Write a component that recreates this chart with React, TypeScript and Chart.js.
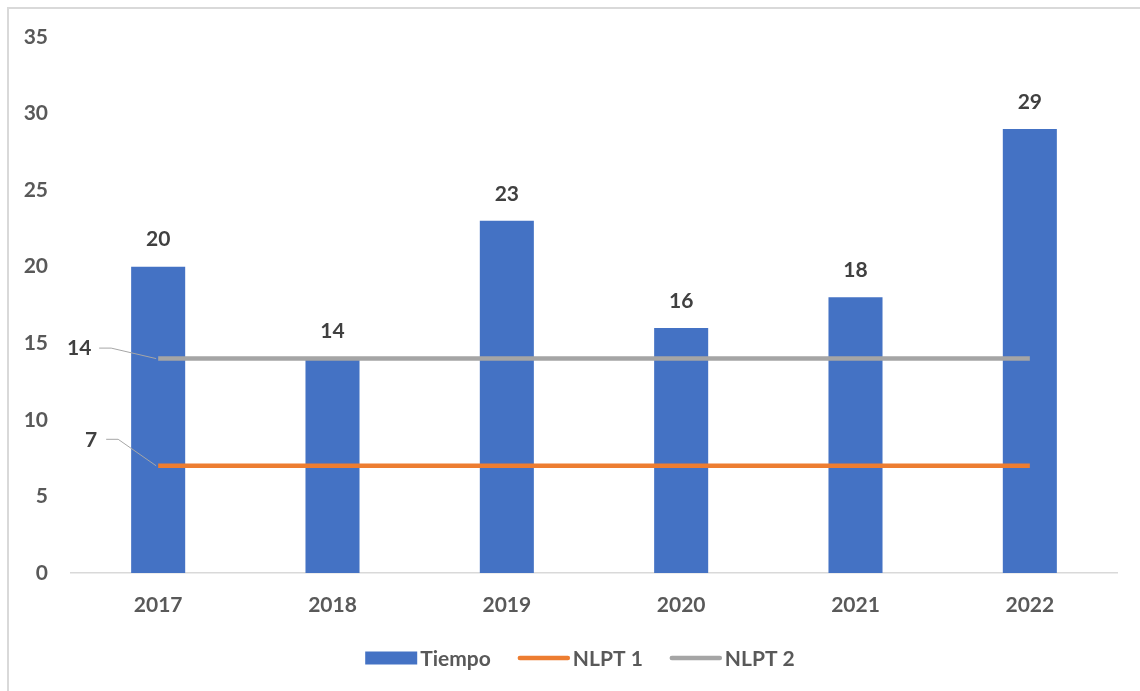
import React, { useEffect, useRef } from "react";
import { Chart, registerables } from "chart.js";

Chart.register(...registerables);

const years = ["2017", "2018", "2019", "2020", "2021", "2022"];
const tiempo = [20, 14, 23, 16, 18, 29];
const nlpt1 = [7, 7, 7, 7, 7, 7];
const nlpt2 = [14, 14, 14, 14, 14, 14];
const seriesNames = ["Tiempo", "NLPT 1", "NLPT 2"];

const BLUE = "#4472C4";
const ORANGE = "#ED7D31";
const GRAY = "#A5A5A5";
const FONT = "Lato, 'Open Sans', sans-serif";
const FONT_SIZE = 21;

const labelsPlugin = {
  id: "valueLabels",
  afterDatasetsDraw(chart: any) {
    const ctx = chart.ctx;
    ctx.save();
    ctx.font = `bold ${FONT_SIZE}px ${FONT}`;
    ctx.fillStyle = "#404040";
    ctx.textAlign = "center";
    ctx.textBaseline = "middle";
    // values above each bar
    const barMeta = chart.getDatasetMeta(0);
    barMeta.data.forEach((el: any, i: number) => {
      ctx.fillText(String(chart.data.datasets[0].data[i]), el.x, el.y - 27);
    });
    // value labels with leader lines at the first point of each threshold line
    const leaders = [
      { ds: 2, tx: -79, ty: -11, lx1: -59, lx2: -47 },
      { ds: 1, tx: -67, ty: -27, lx1: -52, lx2: -40 },
    ];
    leaders.forEach((l) => {
      const p = chart.getDatasetMeta(l.ds).data[0];
      const v = chart.data.datasets[l.ds].data[0];
      ctx.strokeStyle = "#A6A6A6";
      ctx.lineWidth = 1;
      ctx.beginPath();
      ctx.moveTo(p.x + l.lx1, p.y + l.ty + 0.5);
      ctx.lineTo(p.x + l.lx2, p.y + l.ty + 0.5);
      ctx.lineTo(p.x - 2, p.y);
      ctx.stroke();
      ctx.fillText(String(v), p.x + l.tx, p.y + l.ty + 1);
    });
    ctx.restore();
  },
};

const legendPlugin = {
  id: "customLegend",
  afterDraw(chart: any) {
    const ctx = chart.ctx;
    ctx.save();
    ctx.font = `bold ${FONT_SIZE}px ${FONT}`;
    ctx.textBaseline = "middle";
    ctx.textAlign = "left";
    const y = 658;
    const sample = 52;
    const gap = 5;
    const spacing = 25;
    const widths = seriesNames.map((n) => sample + gap + ctx.measureText(n).width);
    const total = widths.reduce((a, b) => a + b, 0) + spacing * (seriesNames.length - 1);
    let x = 581 - total / 2;
    seriesNames.forEach((name, i) => {
      if (i === 0) {
        ctx.fillStyle = BLUE;
        ctx.fillRect(x, y - 6.5, sample, 13);
      } else {
        ctx.strokeStyle = i === 1 ? ORANGE : GRAY;
        ctx.lineWidth = 4.5;
        ctx.lineCap = "round";
        ctx.beginPath();
        ctx.moveTo(x + 2, y);
        ctx.lineTo(x + sample - 2, y);
        ctx.stroke();
      }
      ctx.fillStyle = "#595959";
      ctx.fillText(name, x + sample + gap - 2, y + 1);
      x += widths[i] + spacing;
    });
    ctx.restore();
  },
};

export default function App() {
  const canvasRef = useRef<HTMLCanvasElement | null>(null);

  useEffect(() => {
    if (!canvasRef.current) return;
    const chart = new Chart(canvasRef.current, {
      data: {
        labels: years,
        datasets: [
          {
            type: "bar",
            label: seriesNames[0],
            data: tiempo,
            backgroundColor: BLUE,
            barPercentage: 1,
            categoryPercentage: 0.31,
            order: 3,
          },
          {
            type: "line",
            label: seriesNames[1],
            data: nlpt1,
            borderColor: ORANGE,
            borderWidth: 4.5,
            pointRadius: 0,
            order: 1,
          },
          {
            type: "line",
            label: seriesNames[2],
            data: nlpt2,
            borderColor: GRAY,
            borderWidth: 4.5,
            pointRadius: 0,
            order: 2,
          },
        ],
      } as any,
      options: {
        responsive: false,
        animation: false,
        layout: { padding: { top: 37, right: 23, bottom: 68, left: 0 } },
        plugins: {
          legend: { display: false },
          tooltip: { enabled: false },
          title: { display: false },
        },
        scales: {
          x: {
            grid: { display: false, drawTicks: false },
            border: { display: true, color: "#D9D9D9", width: 1.5 },
            ticks: {
              color: "#595959",
              font: { family: FONT, size: FONT_SIZE, weight: "bold" },
              padding: 20,
            },
            afterFit: (s: any) => {
              s.height = 50;
            },
          },
          y: {
            min: 0,
            max: 35,
            grid: { display: false, drawTicks: false },
            border: { display: false },
            ticks: {
              stepSize: 5,
              color: "#595959",
              font: { family: FONT, size: FONT_SIZE, weight: "bold" },
              padding: 23,
            },
            afterFit: (s: any) => {
              s.width = 71;
            },
          },
        },
      } as any,
      plugins: [labelsPlugin, legendPlugin],
    });
    return () => chart.destroy();
  }, []);

  return (
    <div
      style={{
        position: "absolute",
        left: 0,
        top: 0,
        width: 1140,
        height: 691,
        overflow: "hidden",
        background: "#FFFFFF",
      }}
    >
      <div
        style={{
          position: "absolute",
          left: 7,
          top: 7,
          width: 1140,
          height: 700,
          borderTop: "2px solid #D9D9D9",
          borderLeft: "2px solid #D9D9D9",
        }}
      />
      <canvas
        ref={canvasRef}
        width={1140}
        height={691}
        style={{ position: "absolute", left: 0, top: 0 }}
      />
    </div>
  );
}
